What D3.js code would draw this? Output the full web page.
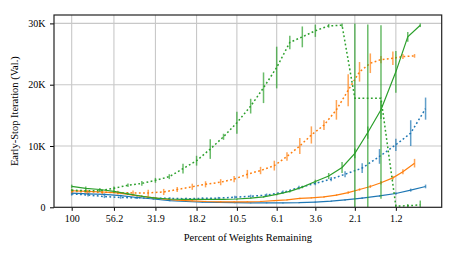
<!DOCTYPE html>
<html lang="en">
<head>
<meta charset="UTF-8">
<title>Early-stop iteration vs percent of weights remaining</title>
<script src="https://cdn.jsdelivr.net/npm/d3@7"></script>
<style>
    body { margin: 0; background: #fff; }
    svg { display: block; font-family: "Liberation Serif", "DejaVu Serif", serif; }
    .tick text { font-size: 10px; fill: #000; font-family: "Liberation Serif", "DejaVu Serif", serif; }
    .grid line { stroke: #c8c8c8; stroke-width: 1.1; }
</style>
</head>
<body>
<script>
// x tick labels (percent of weights remaining)
const xTicks = [100, 56.2, 31.9, 18.2, 10.5, 6.1, 3.6, 2.1, 1.2];
const yTicks = [0, 10000, 20000, 30000];

// percent remaining at each pruning round, per network
const pctConv2 = [100, 80, 64, 51.2, 41, 32.8, 26.2, 21, 16.8, 13.5, 10.8, 8.7, 7.0, 5.6, 4.5, 3.6, 2.9, 2.4, 1.9, 1.5, 1.2, 0.98, 0.80];
const pctConv4 = [100, 81.1, 65.8, 53.3, 43.3, 35.2, 28.5, 23.7, 19.3, 16.1, 13.1, 10.9, 9.1, 7.6, 6.3, 5.3, 4.45, 3.8, 3.2, 2.7, 2.3, 1.97, 1.70, 1.47, 1.25, 1.09, 0.93];
const pctConv6 = [100, 82.5, 68.1, 56.2, 46.4, 38.4, 31.9, 26.4, 21.9, 18.2, 15.1, 12.6, 10.5, 8.7, 7.3, 6.1, 5.1, 4.3, 3.6, 3.0, 2.5, 2.1, 1.76, 1.47, 1.2, 1.02, 0.86];

// early-stop iteration (solid = winning ticket, dotted = random reinit)
const conv2Win = [2300, 2200, 2100, 1900, 1600, 1350, 1100, 950, 850, 800, 750, 720, 720, 720, 750, 850, 1000, 1200, 1500, 1850, 2250, 2800, 3400];
const conv2WinErr = [250, 200, 150, 150, 150, 100, 100, 100, 80, 80, 80, 80, 80, 80, 80, 100, 100, 120, 150, 150, 200, 250, 300];
const conv2Reinit = [2200, 2000, 1750, 1600, 1550, 1500, 1450, 1400, 1450, 1500, 1650, 1800, 2000, 2450, 3200, 3900, 4600, 5400, 6400, 8300, 10200, 12100, 16100];
const conv2ReinitErr = [300, 250, 250, 200, 200, 200, 200, 200, 200, 200, 250, 250, 250, 300, 300, 300, 350, 500, 800, 1200, 1000, 2100, 1800];

const conv4Win = [2700, 2600, 2500, 2350, 2000, 1650, 1350, 1150, 1050, 950, 900, 900, 900, 950, 1100, 1200, 1450, 1550, 1700, 2000, 2400, 2900, 3400, 4000, 4800, 5800, 7200];
const conv4WinErr = [200, 200, 200, 200, 150, 150, 150, 100, 100, 100, 100, 100, 100, 100, 100, 100, 120, 120, 150, 150, 200, 200, 250, 300, 300, 400, 700];
const conv4Reinit = [2600, 2500, 2450, 2400, 2350, 2350, 2500, 2900, 3350, 3750, 4100, 4600, 5400, 6000, 6800, 8300, 10000, 11800, 13400, 15900, 19100, 22100, 23500, 24100, 24300, 24600, 24700];
const conv4ReinitErr = [300, 300, 300, 300, 400, 500, 500, 400, 500, 500, 500, 500, 700, 600, 800, 700, 1300, 1400, 800, 1600, 2600, 1600, 1600, 600, 1100, 400, 300];

const conv6Win = [3400, 3100, 2900, 2600, 2200, 1800, 1500, 1350, 1300, 1300, 1300, 1300, 1350, 1500, 1700, 2100, 2600, 3300, 4200, 5100, 6500, 8800, 12200, 15900, 22100, 27800, 29700];
const conv6WinErr = [300, 300, 250, 250, 200, 150, 150, 100, 100, 100, 100, 100, 100, 100, 150, 150, 200, 200, 300, 500, 900, 800, 1000, 1500, 3400, 800, 300];
const conv6Reinit = [2800, 2700, 2700, 3100, 3600, 3900, 4400, 5000, 6300, 7600, 9500, 11500, 13800, 16500, 19500, 22800, 26900, 27800, 28800, 29600, 29700, 17800, 17800, 17800, 200, 250, 400];
// [below, above] where the spread is lopsided
const conv6ReinitErr = [200, 200, 200, 300, 300, 400, 400, 400, 800, 800, 1600, 500, 1800, 1200, 2500, 3400, 1100, 1700, 1000, 300, 300, [17800, 12200], [17800, 12000], [16400, 11900], 200, 300, 700];

const series = [
    { pct: pctConv2, y: conv2Win, err: conv2WinErr, color: '#1f77b4', dotted: false },
    { pct: pctConv2, y: conv2Reinit, err: conv2ReinitErr, color: '#1f77b4', dotted: true },
    { pct: pctConv4, y: conv4Win, err: conv4WinErr, color: '#ff7f0e', dotted: false },
    { pct: pctConv4, y: conv4Reinit, err: conv4ReinitErr, color: '#ff7f0e', dotted: true },
    { pct: pctConv6, y: conv6Win, err: conv6WinErr, color: '#2ca02c', dotted: false },
    { pct: pctConv6, y: conv6Reinit, err: conv6ReinitErr, color: '#2ca02c', dotted: true }
];

const w = 457, h = 253;
const plotL = 54, plotR = 441.7, plotT = 15, plotB = 207.3;

const svg = d3.select('body').append('svg').attr('width', w).attr('height', h);

const x = d3.scaleLog().domain([127.3, 0.642]).range([plotL, plotR]);
const y = d3.scaleLinear().domain([0, 31370]).range([plotB, plotT]);

// grid
svg.append('g').attr('class', 'grid')
    .selectAll('line').data(xTicks).enter().append('line')
    .attr('x1', d => x(d)).attr('x2', d => x(d)).attr('y1', plotT).attr('y2', plotB);
svg.append('g').attr('class', 'grid')
    .selectAll('line').data(yTicks.slice(1)).enter().append('line')
    .attr('x1', plotL).attr('x2', plotR).attr('y1', d => y(d)).attr('y2', d => y(d));

svg.append('clipPath').attr('id', 'plot')
    .append('rect').attr('x', plotL).attr('y', plotT).attr('width', plotR - plotL).attr('height', plotB - plotT);

const plot = svg.append('g').attr('clip-path', 'url(#plot)');

const line = d3.line();

series.forEach(s => {
    const pts = s.y.map((v, i) => [x(s.pct[i]), y(v)]);
    plot.append('path')
        .attr('d', line(pts))
        .attr('fill', 'none')
        .attr('stroke', s.color)
        .attr('stroke-width', s.dotted ? 1.5 : 1.2)
        .attr('stroke-dasharray', s.dotted ? '1.8,2.4' : null);

    plot.append('g').selectAll('line').data(s.y).enter().append('line')
        .attr('x1', (d, i) => x(s.pct[i]))
        .attr('x2', (d, i) => x(s.pct[i]))
        .attr('y1', (d, i) => {
            const e = s.err[i];
            return y(d - (Array.isArray(e) ? e[0] : e));
        })
        .attr('y2', (d, i) => {
            const e = s.err[i];
            return y(d + (Array.isArray(e) ? e[1] : e));
        })
        .attr('stroke', s.color)
        .attr('stroke-width', 1.5)
        .attr('opacity', 0.7);
});

// axes
const xAxis = d3.axisBottom(x).tickValues(xTicks).tickFormat(d => d).tickSize(3.5).tickPadding(4);
svg.append('g').attr('transform', `translate(0,${plotB})`).call(xAxis)
    .call(g => g.select('.domain').remove());

const yAxis = d3.axisLeft(y).tickValues(yTicks)
    .tickFormat(d => d === 0 ? '0' : (d / 1000) + 'K').tickSize(4).tickPadding(4.5);
svg.append('g').attr('transform', `translate(${plotL},0)`).call(yAxis)
    .call(g => g.select('.domain').remove());

svg.append('rect')
    .attr('x', plotL).attr('y', plotT).attr('width', plotR - plotL).attr('height', plotB - plotT)
    .attr('fill', 'none').attr('stroke', '#222').attr('stroke-width', 1.2);

svg.append('text')
    .attr('x', (plotL + plotR) / 2).attr('y', 241)
    .attr('text-anchor', 'middle').attr('font-size', 10.5)
    .text('Percent of Weights Remaining');

svg.append('text')
    .attr('transform', `translate(18,${(plotT + plotB) / 2}) rotate(-90)`)
    .attr('text-anchor', 'middle').attr('font-size', 10.5)
    .text('Early-Stop Iteration (Val.)');
</script>
</body>
</html>
